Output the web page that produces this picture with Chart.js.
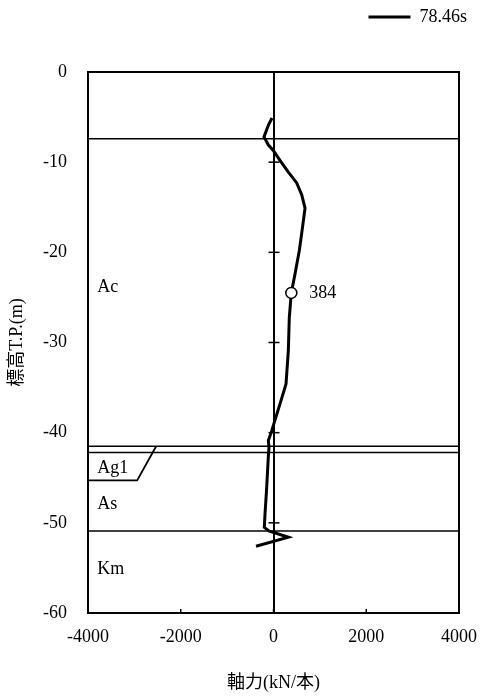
<!DOCTYPE html>
<html><head><meta charset="utf-8">
<script src="https://cdn.jsdelivr.net/npm/chart.js@4/dist/chart.umd.min.js"></script>
<style>html,body{margin:0;padding:0;background:#fff}#wrap{width:485px;height:700px}</style>
</head><body><div id="wrap"><canvas id="c" width="485" height="700"></canvas></div>
<script>
// ---- data ----
const seriesLabel = '78.46s';
const axialForce = [-32, -110, -205, -110, -5, 140, 320, 500, 608, 680, 608, 557, 464, 384, 341, 320, 270, 140, -39, -112, -97, -112, -147, -183, -198, -100, 320, -377];
const elevation  = [-5.1, -5.9, -7.2, -8.1, -8.7, -9.8, -11.1, -12.3, -13.6, -15.1, -17.9, -19.8, -22.4, -24.5, -27.2, -30.9, -34.6, -36.8, -39.8, -40.9, -41.6, -42.7, -46.1, -49.0, -50.5, -50.9, -51.6, -52.6];
const layerBoundaryElevations = [-7.4, -41.5, -42.2, -50.9];
const layerNames = ['Ac', 'Ag1', 'As', 'Km'];
const layerLabelElevations = [-23.9, -43.9, -47.9, -55.1];
const layerLabelForce = -3800;
const calloutForce = [-4000, -2940, -2530];
const calloutElevation = [-45.3, -45.3, -41.5];
const peakForce = 384;
const peakElevation = -24.5;
const xTickLabels = ['-4000', '-2000', '0', '2000', '4000'];
const yTickLabels = ['-60', '-50', '-40', '-30', '-20', '-10', '0'];
const xTitle = '軸力(kN/本)';
const yTitle = '標高T.P.(m)';

// ---- chart ----
const FONT = '"Liberation Serif", "Noto Sans CJK JP", serif';
Chart.defaults.color = '#000';
Chart.defaults.font.family = FONT;
Chart.defaults.font.size = 18;

const pts = (xs, ys) => xs.map((v, i) => ({x: v, y: ys[i]}));
const datasets = [
  {label: seriesLabel, data: pts(axialForce, elevation), showLine: true, borderColor: '#000', backgroundColor: '#000', borderWidth: 3, pointRadius: 0, tension: 0, order: 0}
];
layerBoundaryElevations.forEach(e => datasets.push({label: 'boundary', data: pts([-4000, 4000], [e, e]), showLine: true, borderColor: '#000', borderWidth: 1.5, pointRadius: 0, order: 2}));
datasets.push({label: 'callout', data: pts(calloutForce, calloutElevation), showLine: true, borderColor: '#000', borderWidth: 1.8, pointRadius: 0, order: 2});
datasets.push({label: 'peak', data: [{x: peakForce, y: peakElevation}], showLine: false, pointStyle: 'circle', pointRadius: 5.5, borderColor: '#000', backgroundColor: '#fff', borderWidth: 1.5, order: -1});

const overlay = {
  id: 'overlay',
  afterDatasetsDraw(chart) {
    const {ctx, chartArea, scales: {x, y}} = chart;
    const ln = (a, b, c, d) => { ctx.beginPath(); ctx.moveTo(a, b); ctx.lineTo(c, d); ctx.stroke(); };
    ctx.save();
    ctx.strokeStyle = '#000'; ctx.lineWidth = 1.5;
    const x0 = x.getPixelForValue(0);
    y.ticks.forEach(t => { const py = y.getPixelForValue(t.value); ln(x0 - 5, py, x0 + 6, py); });
    x.ticks.forEach(t => { if (t.value > x.min && t.value < x.max) { const px = x.getPixelForValue(t.value); ln(px, chartArea.bottom, px, chartArea.bottom - 4); } });
    ctx.font = '18px ' + FONT; ctx.fillStyle = '#000'; ctx.textBaseline = 'middle'; ctx.textAlign = 'left';
    layerNames.forEach((n, i) => ctx.fillText(n, x.getPixelForValue(layerLabelForce), y.getPixelForValue(layerLabelElevations[i])));
    ctx.fillText(String(peakForce), x.getPixelForValue(peakForce) + 18, y.getPixelForValue(peakElevation));
    ctx.restore();
  }
};

new Chart(document.getElementById('c'), {
  type: 'scatter',
  data: {datasets},
  options: {
    responsive: false, animation: false, devicePixelRatio: 1,
    layout: {padding: {left: 0, right: 10, top: 0, bottom: 0}},
    plugins: {
      tooltip: {enabled: false},
      legend: {
        display: true, position: 'top', align: 'end',
        labels: {usePointStyle: true, pointStyle: 'line', pointStyleWidth: 42, padding: 8, color: '#000', font: {size: 18, family: FONT},
          filter: item => item.datasetIndex === 0}
      }
    },
    scales: {
      x: {
        type: 'linear', position: 'bottom', min: -4000, max: 4000,
        ticks: {stepSize: 2000, padding: 13, color: '#000', callback: (v) => xTickLabels[Math.round((v + 4000) / 2000)]},
        grid: {drawTicks: false, lineWidth: 2, color: c => (c.tick && c.tick.value === 0) ? '#000' : 'rgba(0,0,0,0)'},
        border: {display: true, color: '#000', width: 2},
        title: {display: true, text: xTitle, color: '#000', font: {size: 18, family: FONT}, padding: {top: 0, bottom: 6}},
        afterFit: s => { s.height = 87; s.paddingLeft = 0; s.paddingRight = 0; }
      },
      y: {
        type: 'linear', position: 'left', min: -60, max: 0,
        ticks: {stepSize: 10, padding: 21, color: '#000', callback: (v) => yTickLabels[Math.round((v + 60) / 10)]},
        grid: {display: false, drawTicks: false},
        border: {display: true, color: '#000', width: 2},
        title: {display: true, text: yTitle, color: '#000', font: {size: 18, family: FONT}, padding: {top: 6, bottom: 0}},
        afterFit: s => { s.width = 88; s.paddingTop = 0; s.paddingBottom = 0; }
      },
      x2: {
        type: 'linear', position: 'top', min: -4000, max: 4000,
        ticks: {display: false}, grid: {display: false, drawTicks: false},
        border: {display: true, color: '#000', width: 2},
        afterFit: s => { s.height = 36; s.paddingLeft = 0; s.paddingRight = 0; }
      },
      y2: {
        type: 'linear', position: 'right', min: -60, max: 0,
        ticks: {display: false}, grid: {display: false, drawTicks: false},
        border: {display: true, color: '#000', width: 2},
        afterFit: s => { s.width = 16; }
      }
    }
  },
  plugins: [overlay]
});
</script>
</body></html>
